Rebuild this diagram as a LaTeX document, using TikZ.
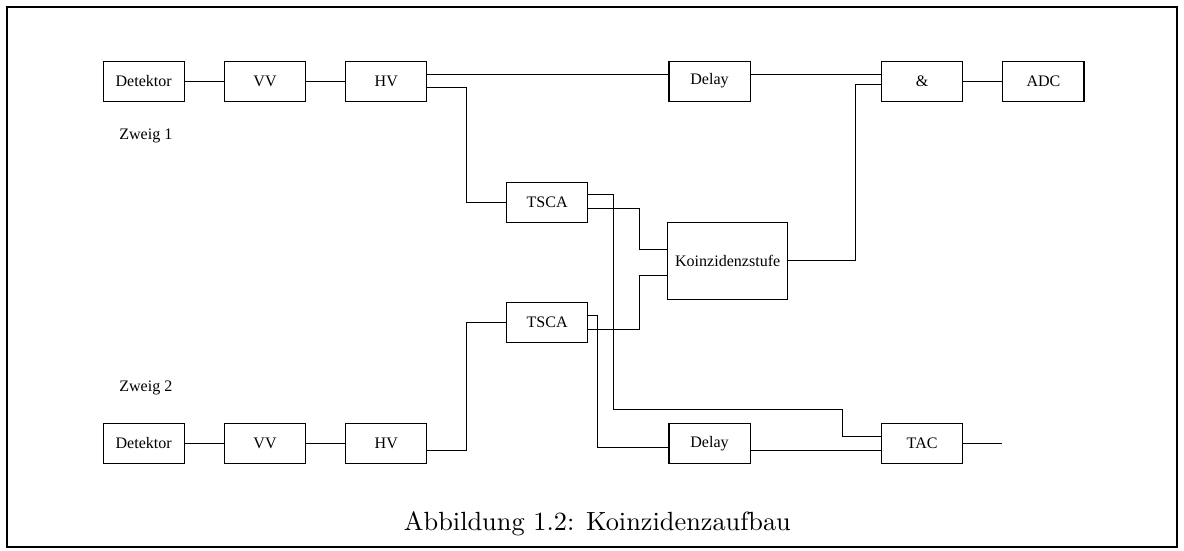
\documentclass[tikz,border=0pt]{standalone}
\usepackage{fontspec}
\newfontfamily\figfont{Liberation Serif}
\usetikzlibrary{positioning}

\begin{document}
\begin{tikzpicture}[node distance=15.3pt]
       \tikzstyle{block}=[draw,minimum width=30.8pt,minimum height=15.2pt,inner sep=0pt,outer sep=0pt,font=\figfont\fontsize{6.1}{7}\selectfont]
       \tikzstyle{label}=[inner sep=0pt,font=\figfont\fontsize{6.1}{7}\selectfont]

       \useasboundingbox (0,0) rectangle (449.9pt,209pt);
       \draw[line width=0.8pt] (2.66pt,1.14pt) rectangle (447.3pt,206.3pt);

       % Zweig 1
       \node[block]         (det1) at (54.6pt,178.2pt) {Detektor};
       \node[block]         (vv1) [right=of det1] {VV};
       \node[block]         (hv1) [right=of vv1] {HV};
       \node[block]         (delay1) [right=92pt of hv1] {Delay};
       \node[block]         (and1) [right=50pt of delay1] {\&};
       \node[block]         (adc) [right=of and1] {ADC};
       \node[label]         (zweig1) at ([xshift=0.8pt,yshift=-20.9pt]det1.center) {Zweig 1};

       % Koinzidenz
       \node[block]         (tsca1) [below right=30.8pt and 30.3pt of hv1] {TSCA};
       \node[block]         (tsca2) [below=30.4pt of tsca1] {TSCA};
       \node[block,minimum width=45.6pt,minimum height=29.3pt] (koinz) [below right=0pt and 30.4pt of tsca1] {Koinzidenzstufe};

       % Zweig 2
       \node[block]         (det2) [below=122.4pt of det1] {Detektor};
       \node[block]         (vv2) [right=of det2] {VV};
       \node[block]         (hv2) [right=of vv2] {HV};
       \node[block]         (delay2) [below=122.4pt of delay1] {Delay};
       \node[block]         (tac) [below=122.4pt of and1] {TAC};
       \node[label]         (zweig2) at ([xshift=0.8pt,yshift=20.9pt]det2.center) {Zweig 2};
       \coordinate[right=14.8pt of tac] (tacout);

       \node[anchor=base]   (caption) at (227pt,7.6pt) {Abbildung 1.2: Koinzidenzaufbau};

       \draw (det1) -- (vv1);
       \draw (vv1) -- (hv1);
       \draw ([yshift=2.66pt]hv1.east) -- ([yshift=2.66pt]delay1.west);
       \draw ([yshift=2.66pt]delay1.east) -- ([yshift=2.66pt]and1.west);
       \draw (and1) -- (adc);
       \draw ([yshift=-2.28pt]hv1.east) -- ++(15.2pt,0) |- (tsca1.west);

       \draw ([yshift=3.04pt]tsca1.east) -- ++(9.9pt,0) |- ([xshift=-14.8pt,yshift=12.9pt]tac.west) |- ([yshift=2.66pt]tac.west);
       \draw ([yshift=-2.28pt]tsca1.east) -- ++(19.8pt,0) |- ([yshift=4.37pt]koinz.west);
       \draw ([yshift=-2.66pt]tsca2.east) -- ++(19.8pt,0) |- ([yshift=-5.5pt]koinz.west);
       \draw ([yshift=2.66pt]tsca2.east) -- ++(3.8pt,0) |- ([yshift=-1.52pt]delay2.west);
       \draw (koinz.east) -- ++(25.8pt,0) |- ([yshift=-1.14pt]and1.west);

       \draw (det2) -- (vv2);
       \draw (vv2) -- (hv2);
       \draw ([yshift=-2.66pt]hv2.east) -- ++(15.2pt,0) |- (tsca2.west);
       \draw ([yshift=-2.66pt]delay2.east) -- ([yshift=-2.66pt]tac.west);
       \draw (tac) -- (tacout);
\end{tikzpicture}
\end{document}
